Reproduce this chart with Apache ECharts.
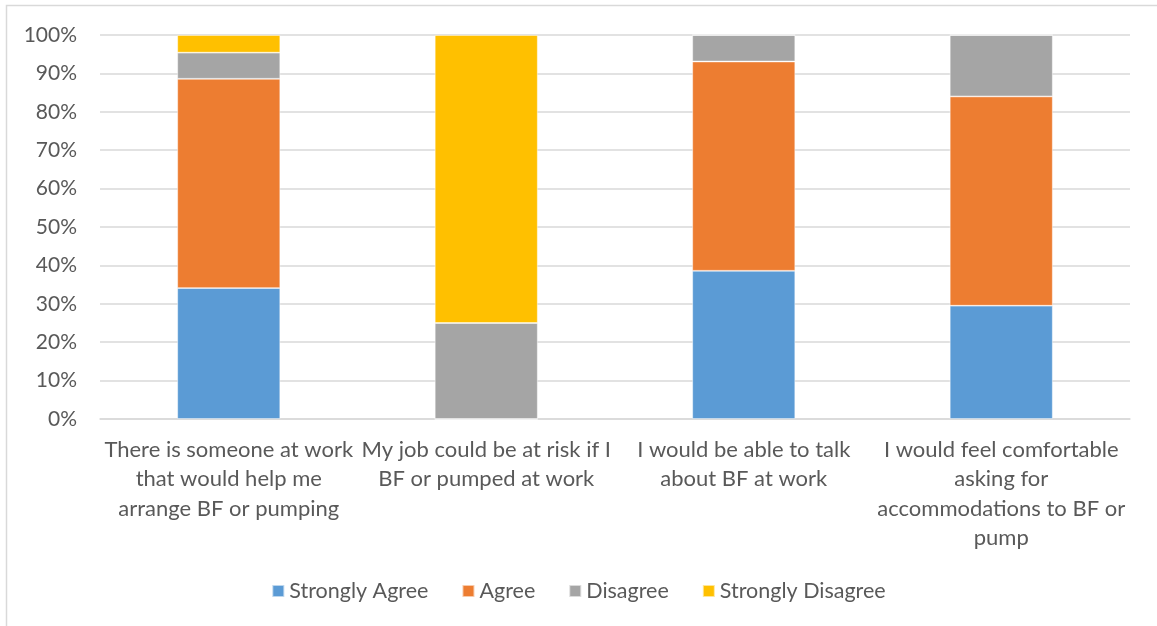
<!DOCTYPE html>
<html>
<head>
<meta charset="utf-8">
<title>Breastfeeding at work survey</title>
<script src="https://cdn.jsdelivr.net/npm/echarts@6/dist/echarts.min.js"></script>
<style>
  html, body { margin: 0; padding: 0; background: #fff; }
  #chart { width: 1157px; height: 626px; }
</style>
</head>
<body>
<div id="chart"></div>
<script>
// Survey statements (x-axis), with line breaks as they wrap under each bar
const categories = [
  'There is someone at work\nthat would help me\narrange BF or pumping',
  'My job could be at risk if I\nBF or pumped at work',
  'I would be able to talk\nabout BF at work',
  'I would feel comfortable\nasking for\naccommodations to BF or\npump'
];

// Share of responses per statement, in percent
const stronglyAgree    = [34.1, 0,    38.6, 29.5];
const agree            = [54.5, 0,    54.5, 54.5];
const disagree         = [6.8,  25.0, 6.9,  16.0];
const stronglyDisagree = [4.6,  75.0, 0,    0];

const yTicks = { min: 0, max: 100, interval: 10 };

const font = 'Lato, "Open Sans", sans-serif';
const textColor = '#595959';

const chart = echarts.init(document.getElementById('chart'), null, { renderer: 'canvas' });

function barSeries(name, data, color) {
  return {
    name: name,
    type: 'bar',
    stack: 'total',
    data: data,
    barWidth: 103,
    itemStyle: { color: color, borderColor: 'rgba(255,255,255,0.6)', borderWidth: 0.8 },
    emphasis: { disabled: true }
  };
}

chart.setOption({
  animation: false,
  backgroundColor: '#fff',
  textStyle: { fontFamily: font },
  graphic: [{
    type: 'rect',
    silent: true,
    shape: { x: 6.5, y: 5.5, width: 1180, height: 640 },
    style: { fill: 'none', stroke: '#d9d9d9', lineWidth: 1.5 }
  }],
  grid: { left: 100, right: 27, top: 35, bottom: 207, containLabel: false },
  legend: {
    top: 575,
    left: 'center',
    itemWidth: 12,
    itemHeight: 12,
    itemGap: 33,
    icon: 'rect',
    textStyle: { color: textColor, fontSize: 21.5, fontFamily: font },
    data: ['Strongly Agree', 'Agree', 'Disagree', 'Strongly Disagree']
  },
  xAxis: {
    type: 'category',
    data: categories,
    axisLine: { show: true, lineStyle: { color: '#d9d9d9', width: 1.5 } },
    axisTick: { show: false },
    axisLabel: {
      interval: 0,
      margin: 16,
      color: textColor,
      fontSize: 22,
      lineHeight: 29.4,
      fontFamily: font,
      align: 'center'
    }
  },
  yAxis: {
    type: 'value',
    min: yTicks.min,
    max: yTicks.max,
    interval: yTicks.interval,
    axisLine: { show: false },
    axisTick: { show: false },
    splitLine: { lineStyle: { color: '#d9d9d9', width: 1.5 } },
    axisLabel: {
      margin: 23,
      color: textColor,
      fontSize: 21,
      fontFamily: font,
      formatter: '{value}%'
    }
  },
  series: [
    barSeries('Strongly Agree', stronglyAgree, '#5B9BD5'),
    barSeries('Agree', agree, '#ED7D31'),
    barSeries('Disagree', disagree, '#A5A5A5'),
    barSeries('Strongly Disagree', stronglyDisagree, '#FFC000')
  ]
});
</script>
</body>
</html>
